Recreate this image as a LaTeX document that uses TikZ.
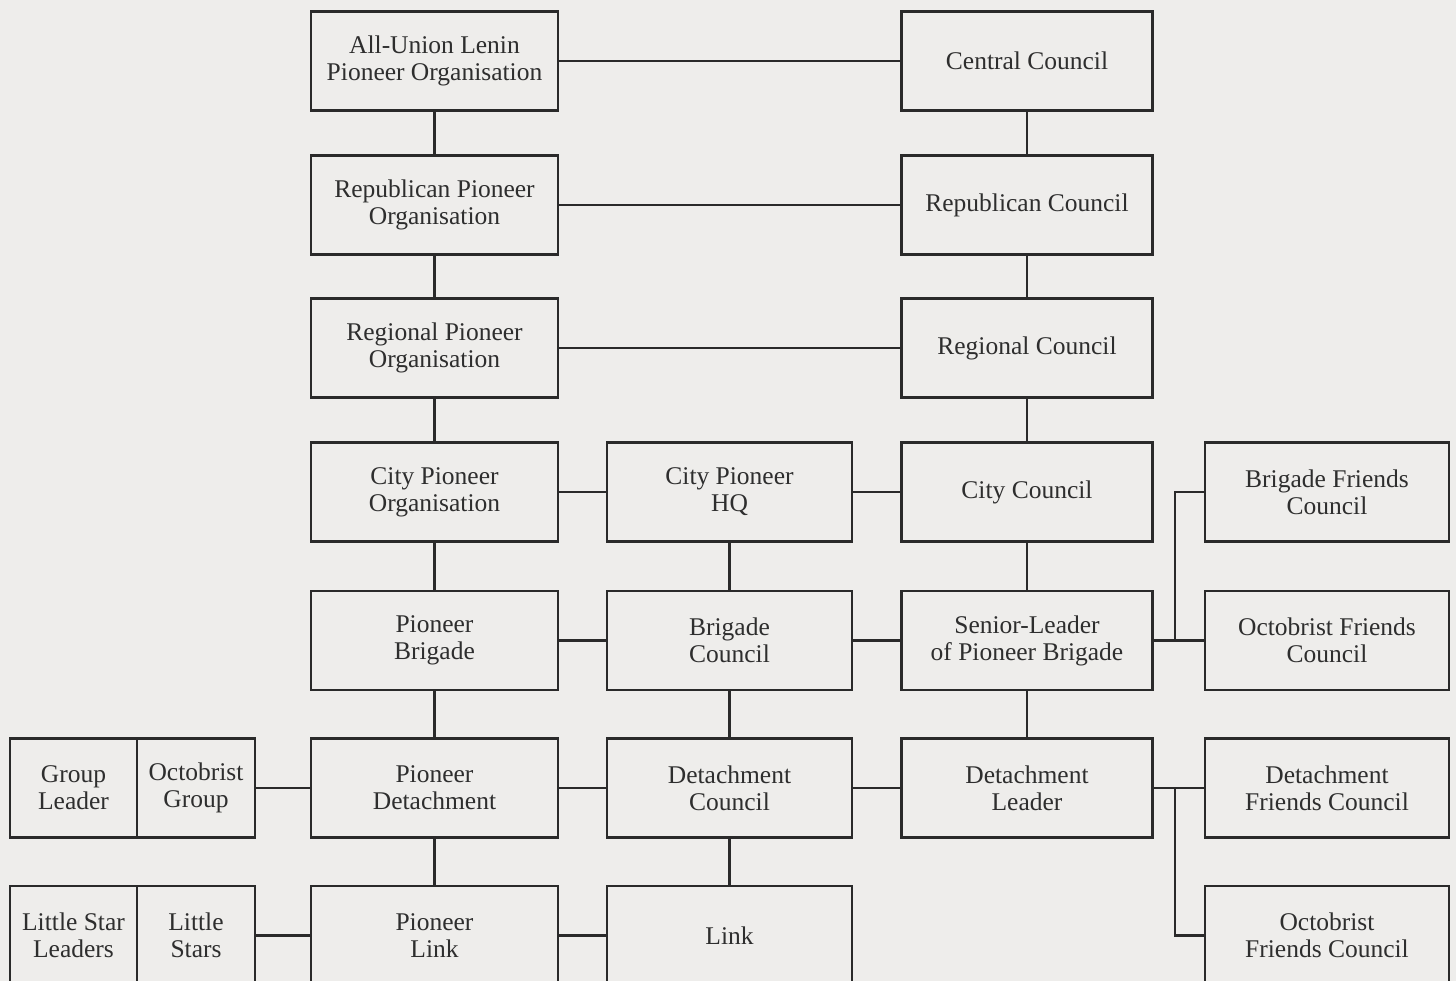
\documentclass[tikz,border=0pt]{standalone}
\usepackage{fontspec}
\setmainfont{Liberation Serif}
\definecolor{bg}{HTML}{EEEDEB}
\definecolor{ink}{HTML}{2A2A2A}
\definecolor{txt}{HTML}{2E2E2E}
\tikzset{
  box/.style={draw=ink, line width=2.8pt, fill=bg, inner sep=0pt, align=center,
    text=txt, font=\fontsize{25.5}{27}\selectfont, minimum height=99pt},
  w1/.style={minimum width=247pt},
  w2/.style={minimum width=245pt},
  w3/.style={minimum width=251pt},
  w4/.style={minimum width=244pt},
  conn/.style={draw=ink, line width=2.8pt}
}
\begin{document}
\begin{tikzpicture}[x=1pt,y=-1pt]
\useasboundingbox (0,0) rectangle (1456,981);
\clip (0,0) rectangle (1456,981);
\fill[bg] (0,0) rectangle (1456,981);

% column 1
\node[box,w1] (allu) at (434.5,61) {All-Union Lenin\\Pioneer Organisation};
\node[box,w1] (repo) at (434.5,205) {Republican Pioneer\\Organisation};
\node[box,w1] (rego) at (434.5,348) {Regional Pioneer\\Organisation};
\node[box,w1] (cito) at (434.5,492) {City Pioneer\\Organisation};
\node[box,w1] (pbr) at (434.5,640.5) {Pioneer\\Brigade};
\node[box,w1] (pdet) at (434.5,788) {Pioneer\\Detachment};
\node[box,w1] (plink) at (434.5,935.5) {Pioneer\\Link};

% column 2
\node[box,w2] (chq) at (729.5,492) {City Pioneer\\HQ};
\node[box,w2] (bcou) at (729.5,640.5) {Brigade\\Council};
\node[box,w2] (dcou) at (729.5,788) {Detachment\\Council};
\node[box,w2] (link) at (729.5,935.5) {Link};

% column 3
\node[box,w3] (cenc) at (1027,61) {Central Council};
\node[box,w3] (repc) at (1027,205) {Republican Council};
\node[box,w3] (regc) at (1027,348) {Regional Council};
\node[box,w3] (citc) at (1027,492) {City Council};
\node[box,w3] (sl) at (1027,640.5) {Senior-Leader\\of Pioneer Brigade};
\node[box,w3] (dl) at (1027,788) {Detachment\\Leader};

% column 4
\node[box,w4] (bfc) at (1327,492) {Brigade Friends\\Council};
\node[box,w4] (ofc) at (1327,640.5) {Octobrist Friends\\Council};
\node[box,w4] (dfc) at (1327,788) {Detachment\\Friends Council};
\node[box,w4] (ofc2) at (1327,935.5) {Octobrist\\Friends Council};

% left small boxes
\node[box,minimum width=127pt] (gl) at (73.5,788) {Group\\Leader};
\node[box,minimum width=118pt] (og) at (196,788) {Octobrist\\Group};
\node[box,minimum width=127pt] (lsl) at (73.5,935.5) {Little Star\\Leaders};
\node[box,minimum width=118pt] (ls) at (196,935.5) {Little\\Stars};

\coordinate (busx) at (1175,0);

% vertical connectors
\draw[conn] (allu.south) -- (repo.north);
\draw[conn] (repo.south) -- (rego.north);
\draw[conn] (rego.south) -- (cito.north);
\draw[conn] (cito.south) -- (pbr.north);
\draw[conn] (pbr.south) -- (pdet.north);
\draw[conn] (pdet.south) -- (plink.north);
\draw[conn] (chq.south) -- (bcou.north);
\draw[conn] (bcou.south) -- (dcou.north);
\draw[conn] (dcou.south) -- (link.north);
\draw[conn] (cenc.south) -- (repc.north);
\draw[conn] (repc.south) -- (regc.north);
\draw[conn] (regc.south) -- (citc.north);
\draw[conn] (citc.south) -- (sl.north);
\draw[conn] (sl.south) -- (dl.north);

% horizontal connectors
\draw[conn] (allu.east) -- (cenc.west);
\draw[conn] (repo.east) -- (repc.west);
\draw[conn] (rego.east) -- (regc.west);
\draw[conn] (cito.east) -- (chq.west);
\draw[conn] (chq.east) -- (citc.west);
\draw[conn] (pbr.east) -- (bcou.west);
\draw[conn] (bcou.east) -- (sl.west);
\draw[conn] (og.east) -- (pdet.west);
\draw[conn] (pdet.east) -- (dcou.west);
\draw[conn] (dcou.east) -- (dl.west);
\draw[conn] (ls.east) -- (plink.west);
\draw[conn] (plink.east) -- (link.west);

% right bus connectors
\draw[conn] (sl.east) -- (ofc.west);
\draw[conn] (sl.east -| busx) |- (bfc.west);
\draw[conn] (dl.east) -- (dfc.west);
\draw[conn] (dl.east -| busx) |- (ofc2.west);
\end{tikzpicture}
\end{document}
